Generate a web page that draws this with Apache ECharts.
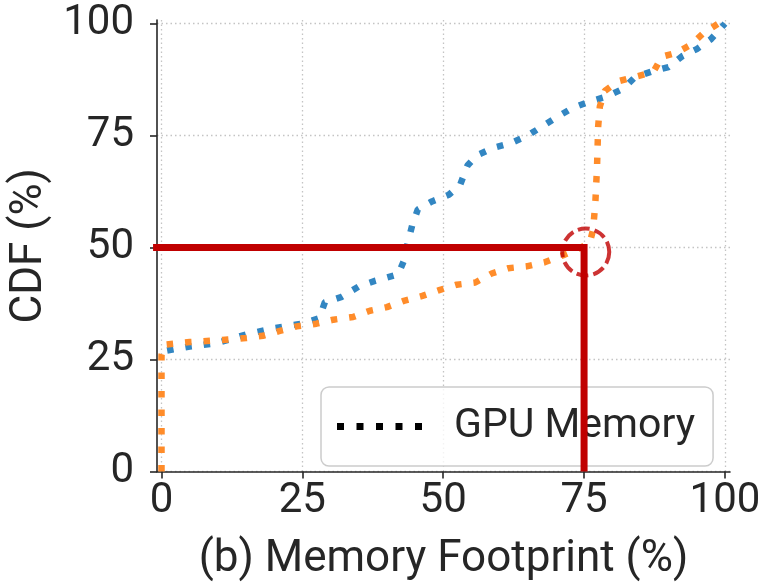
<!DOCTYPE html>
<html>
<head>
<meta charset="utf-8">
<script src="https://cdn.jsdelivr.net/npm/echarts@6/dist/echarts.min.js"></script>
<style>
  html, body { margin: 0; padding: 0; background: #ffffff; }
  #chart { width: 761px; height: 586px; }
</style>
</head>
<body>
<div id="chart"></div>
<script>
// Tick positions shared by both axes (percent)
const tickValues = [0, 25, 50, 75, 100];

// CDF of memory footprint, first workload: [footprint %, CDF %]
const cdfBlue = [
  [1, 27], [5, 27.9], [10, 28.7], [15, 30.6], [20, 32], [25, 33], [28, 34.2],
  [29, 37.8], [32, 39], [35, 41.3], [38, 42.6], [42, 44], [43, 47], [43.7, 51],
  [44.5, 55], [45.5, 58.5], [48, 60.3], [51, 61.8], [53, 64], [54.3, 68.3],
  [56, 70.6], [59, 72.3], [62, 73.3], [65, 75], [67.5, 77], [70, 79], [73, 81.2],
  [76, 82.6], [79, 83.7], [82, 85.5], [84, 88], [87, 89.3], [90, 90.3],
  [92.5, 92.8], [95, 94.3], [97.5, 96.5], [100, 100]
];

// CDF of memory footprint, second workload: [footprint %, CDF %]
const cdfOrange = [
  [0, 0], [0, 26], [0.5, 28.3], [5, 28.9], [10, 29.3], [15, 29.8], [18, 30.3],
  [21, 31.4], [24, 32.4], [27.5, 33], [30.5, 33.9], [34, 34.5], [37, 35.9],
  [40, 36.7], [43, 38.1], [46.3, 39.2], [49.3, 40.5], [52.4, 41.7], [55.7, 42.2],
  [58.6, 44.2], [61.6, 45.4], [64.8, 45.8], [68, 46.7], [71.3, 48.3], [74.3, 49.9],
  [76, 51], [76.6, 54], [77, 60], [77.3, 68], [77.5, 77], [77.8, 81.5], [78.7, 85],
  [81, 87.1], [84.3, 88.2], [87.3, 89.2], [88.8, 92.6], [91.4, 93.5], [94, 95.3],
  [96.3, 98], [98.8, 100]
];

// Median guide: 50% of samples use at most 75% memory
const guidePath = [[-1.5, 50], [75, 50], [75, 0]];
const highlightPoint = [[75.3, 49]];

const legendLabel = 'GPU Memory';
const xTitle = '(b) Memory Footprint (%)';
const yTitle = 'CDF (%)';

const FONT = 'Roboto';
const AXIS_COLOR = '#262626';
const RED = '#c00000';
const TICK_FONT = 42;
const TITLE_FONT = 44;
const dotted = { width: 6.5, type: [6.5, 12], cap: 'butt' };
// Five square dots, used as the legend key for a dotted line
const dottedKey = 'path://M0,0h7v7h-7z M19.5,0h7v7h-7z M39,0h7v7h-7z M58.5,0h7v7h-7z M78,0h7v7h-7z';

const chart = echarts.init(document.getElementById('chart'), null, { renderer: 'canvas' });

chart.setOption({
  animation: false,
  backgroundColor: '#ffffff',
  grid: { left: 157, right: 31, top: 20, bottom: 114.5, containLabel: false, outerBoundsMode: 'none' },
  xAxis: {
    type: 'value',
    min: -0.8,
    max: 100.9,
    name: xTitle,
    nameLocation: 'middle',
    nameGap: 66,
    nameTextStyle: { fontFamily: FONT, fontSize: TITLE_FONT, color: AXIS_COLOR },
    axisLine: { show: true, onZero: false, lineStyle: { color: AXIS_COLOR, width: 1.6 } },
    axisTick: { show: true, customValues: tickValues, length: 7, lineStyle: { color: AXIS_COLOR, width: 1.6 } },
    axisLabel: { customValues: tickValues, margin: 9, fontFamily: FONT, fontSize: TICK_FONT, color: AXIS_COLOR },
    splitLine: { show: true, lineStyle: { color: '#c4c4c4', width: 1.3, type: [1.5, 3] } }
  },
  yAxis: {
    type: 'value',
    min: 0,
    max: 100.8,
    name: yTitle,
    nameLocation: 'middle',
    nameRotate: 90,
    nameGap: 104,
    nameTextStyle: { fontFamily: FONT, fontSize: TITLE_FONT, color: AXIS_COLOR },
    axisLine: { show: true, onZero: false, lineStyle: { color: AXIS_COLOR, width: 1.6 } },
    axisTick: { show: true, customValues: tickValues, length: 7, lineStyle: { color: AXIS_COLOR, width: 1.6 } },
    axisLabel: { customValues: tickValues, margin: 23, fontFamily: FONT, fontSize: TICK_FONT, color: AXIS_COLOR },
    splitLine: { show: true, lineStyle: { color: '#c4c4c4', width: 1.3, type: [1.5, 3] } }
  },
  legend: {
    data: [{ name: legendLabel, icon: dottedKey }],
    left: 321,
    top: 387,
    z: 3,
    padding: [19, 18, 19, 16],
    itemWidth: 85,
    itemHeight: 7,
    backgroundColor: 'rgba(255,255,255,0.8)',
    borderColor: '#cccccc',
    borderWidth: 1.5,
    borderRadius: 8,
    itemStyle: { color: '#000000' },
    textStyle: { fontFamily: FONT, fontSize: 41, color: AXIS_COLOR, padding: [0, 0, 0, 27] }
  },
  series: [
    {
      type: 'line',
      name: 'cdf-blue',
      data: cdfBlue,
      showSymbol: false,
      symbol: 'none',
      z: 2,
      lineStyle: Object.assign({ color: '#3286c2' }, dotted)
    },
    {
      type: 'line',
      name: 'cdf-orange',
      data: cdfOrange,
      showSymbol: false,
      symbol: 'none',
      z: 3,
      lineStyle: Object.assign({ color: '#ff8c2a' }, dotted)
    },
    {
      type: 'line',
      name: legendLabel,
      data: [],
      symbol: 'none',
      color: '#000000',
      lineStyle: Object.assign({ color: '#000000' }, dotted)
    },
    {
      type: 'line',
      name: 'guide',
      data: guidePath,
      symbol: 'none',
      clip: false,
      z: 10,
      lineStyle: { color: RED, width: 7, join: 'miter', cap: 'butt' }
    },
    {
      type: 'scatter',
      name: 'highlight',
      data: highlightPoint,
      symbol: 'circle',
      symbolSize: 47,
      z: 11,
      itemStyle: { color: 'rgba(0,0,0,0)', borderColor: RED, borderWidth: 4, borderType: [12, 5] }
    }
  ]
});
</script>
</body>
</html>
